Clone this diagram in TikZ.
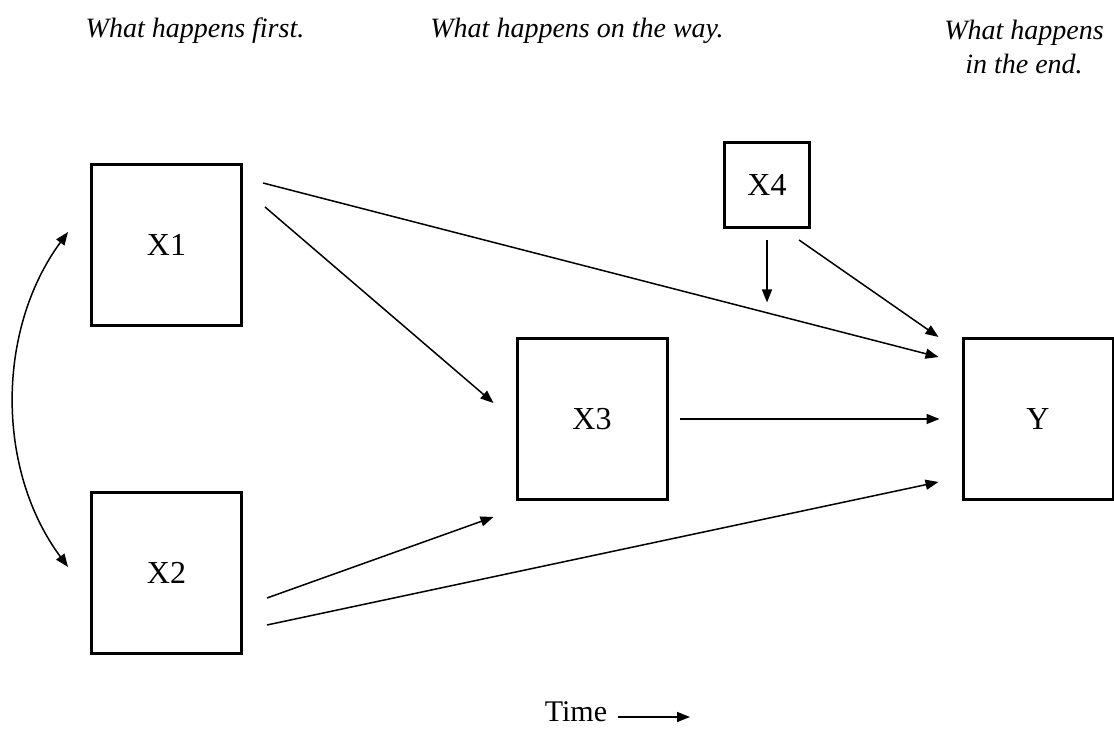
\documentclass[tikz,border=0pt]{standalone}
\usepackage{fontspec}
\setmainfont{Liberation Serif}
\usetikzlibrary{arrows.meta,positioning}

\begin{document}
\begin{tikzpicture}[x=0.5pt, y=0.5pt, >={Triangle[length=6.5pt,width=5pt]},
        var/.style={rectangle, draw, line width=1.5pt, minimum width=75pt, minimum height=80.5pt, inner sep=0pt, font=\fontsize{16}{19}\selectfont},
        head/.style={inner sep=0pt, font=\fontsize{14}{17}\selectfont\itshape, align=center},
        link/.style={->, line width=0.75pt}]
        \useasboundingbox (0,0) rectangle (1114,748);

        % headings
        \node[head, anchor=base] (first) at (195,710) {What happens first.};
        \node[head, anchor=base] (way) at (577,710) {What happens on the way.};
        \node[head, anchor=north] (end) at (1024,728) {What happens\\in the end.};

        \node[var] (x1) at (166.5,503) {X1};
        \node[var] (x2) at (166.5,175) {X2};
        \node[var] (x3) at (592,329) {X3};
        \node[var, minimum width=42.5pt, minimum height=42.5pt] (x4) at (767,563) {X4};
        \node[var] (y) at (1038,329) {Y};

        \draw[link] ([shift={(20,-20)}]x1.north east) -- coordinate[pos=0.744] (mod) ([shift={(-23,-20)}]y.north west);
        \draw[link] ([shift={(22,-44)}]x1.north east) -- ([shift={(-22,-66)}]x3.north west);
        \draw[link] ([shift={(24,-107)}]x2.north east) -- ([shift={(-22,-16)}]x3.south west);
        \draw[link] ([shift={(24,-134)}]x2.north east) -- ([shift={(-23,19)}]y.south west);
        \draw[link] ([xshift=5.5pt]x3.east) -- ([xshift=-11pt]y.west);
        \draw[link] ([yshift=-5.5pt]x4.south) -- ([yshift=5pt]x4.south |- mod);
        \draw[link] ([shift={(-12,-11)}]x4.south east) -- ([xshift=-11.5pt]y.north west);
        \draw[link, <->] ([shift={(-22,13)}]x1.west) .. controls (-4,418) and (-4,278) .. ([shift={(-22,6)}]x2.west);

        % time axis
        \node[inner sep=0pt, anchor=base, font=\fontsize{15}{18}\selectfont] (time) at (576,26) {Time};
        \coordinate (tend) at (690,31);
        \draw[link] ([xshift=5pt]time.east |- tend) -- (tend);
    \end{tikzpicture}
\end{document}
